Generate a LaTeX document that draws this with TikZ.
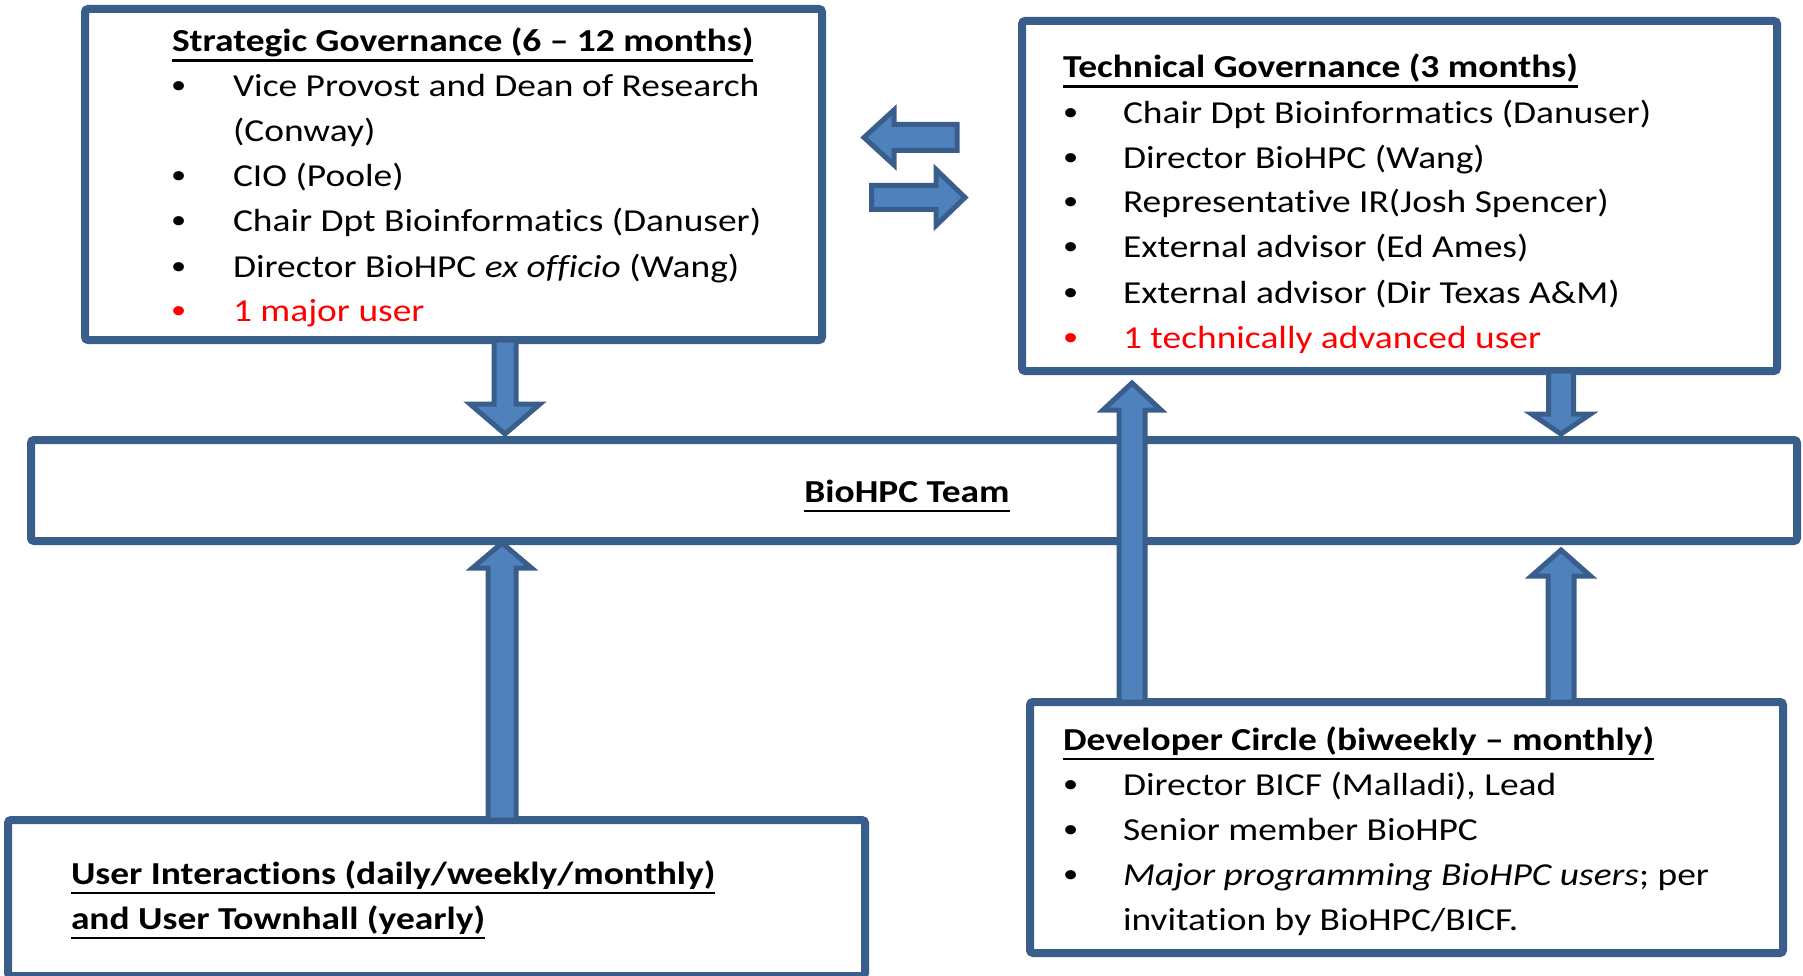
\documentclass[tikz,border=0pt]{standalone}
\usepackage{fontspec}
\setmainfont{Carlito}[FakeStretch=1.17, Ligatures={NoCommon}]
\usetikzlibrary{calc}

\definecolor{boxline}{HTML}{3A5E8C}
\definecolor{arrowfill}{HTML}{4F81BD}
\definecolor{arrowline}{HTML}{3A5E8C}
\definecolor{alertred}{HTML}{FF0000}

% underlined text with a fixed rule below the baseline
\newcommand\undl[1]{\setbox0=\hbox{#1}\rlap{\rule[-10pt]{\wd0}{2.5pt}}\box0}
% small list bullet, raised to mid x-height
\newcommand\bul{\raisebox{3pt}{\fontsize{26}{30}\selectfont •}}

% block arrow from #1 to tip #2: shaft half-width #3, head half-width #4, head length #5
\newcommand\blockarrow[5]{%
  \coordinate (bah) at ($(#2)!#5!(#1)$);
  \draw[blockarr] ($(#1)!#3!90:(#2)$) -- ($(bah)!#3!90:(#2)$) -- ($(bah)!#4!90:(#2)$)
    -- (#2) -- ($(bah)!#4!-90:(#2)$) -- ($(bah)!#3!-90:(#2)$) -- ($(#1)!#3!-90:(#2)$) -- cycle;
}

\tikzset{
  box/.style={draw=boxline, line width=8pt, fill=white, rounded corners=3pt,
    inner sep=0pt, outer sep=0pt, anchor=north west},
  blockarr/.style={draw=arrowline, fill=arrowfill, line width=5pt, line join=miter},
  txt/.style={anchor=base west, inner sep=0pt, outer sep=0pt,
    font=\fontsize{32}{40}\selectfont},
  ttl/.style={txt, font=\fontsize{32}{40}\selectfont\bfseries},
  redtxt/.style={txt, text=alertred},
}

\begin{document}
\begin{tikzpicture}[x=1pt,y=-1pt]
\useasboundingbox (0,0) rectangle (1803,976);

% boxes
\node[box, minimum width=737pt, minimum height=331pt] (strat) at (85,9) {};
\node[box, minimum width=755pt, minimum height=350pt] (tech) at (1022,21) {};
\node[box, minimum width=1766pt, minimum height=101pt] (team) at (31,440) {};
\node[box, minimum width=857pt, minimum height=156pt] (user) at (8,820) {};
\node[box, minimum width=753pt, minimum height=251pt] (dev) at (1030,702) {};

% arrow columns
\coordinate (colA) at (505,0);
\coordinate (colB) at (502,0);
\coordinate (colC) at (1132,0);
\coordinate (colD) at (1561,0);

% vertical arrows between boxes
\blockarrow{strat.south -| colA}{$(team.north -| colA)+(0,-6)$}{11pt}{35pt}{30pt}
\blockarrow{user.north -| colB}{$(team.south -| colB)+(0,2)$}{14pt}{29.5pt}{25pt}
\blockarrow{dev.north -| colC}{$(tech.south -| colC)+(0,12)$}{13pt}{29pt}{27pt}
\blockarrow{tech.south -| colD}{$(team.north -| colD)+(0,-6)$}{12.5pt}{29.5pt}{20pt}
\blockarrow{dev.north -| colD}{$(team.south -| colD)+(0,9)$}{13pt}{29.5pt}{26pt}

% exchange arrows between the two governance boxes
\coordinate (lfts) at (957,137.5);
\coordinate (lftt) at (864,137.5);
\coordinate (rgts) at (871.5,197.5);
\coordinate (rgtt) at (965,197.5);
\blockarrow{lfts}{lftt}{13pt}{27.5pt}{30pt}
\blockarrow{rgts}{rgtt}{12pt}{28pt}{29pt}

% strategic governance
\node[ttl] (sT) at (172,52) {\undl{Strategic Governance (6 – 12 months)}};
\node[txt] (sb1) at (171,97) {\bul};
\node[txt] (s1) at (233,97) {Vice Provost and Dean of Research};
\node[txt] (s1b) at (233,142) {(Conway)};
\node[txt] (sb2) at (171,187) {\bul};
\node[txt] (s2) at (233,187) {CIO (Poole)};
\node[txt] (sb3) at (171,232) {\bul};
\node[txt] (s3) at (233,232) {Chair Dpt Bioinformatics (Danuser)};
\node[txt] (sb4) at (171,277) {\bul};
\node[txt] (s4) at (233,277) {Director BioHPC \textit{ex officio} (Wang)};
\node[redtxt] (sb5) at (171,321) {\bul};
\node[redtxt] (s5) at (233,321) {1 major user};

% technical governance
\node[ttl] (tT) at (1063,78) {\undl{Technical Governance (3 months)}};
\node[txt] (tb1) at (1063,124) {\bul};
\node[txt] (t1) at (1123,124) {Chair Dpt Bioinformatics (Danuser)};
\node[txt] (tb2) at (1063,169) {\bul};
\node[txt] (t2) at (1123,169) {Director BioHPC (Wang)};
\node[txt] (tb3) at (1063,213) {\bul};
\node[txt] (t3) at (1123,213) {Representative IR(Josh Spencer)};
\node[txt] (tb4) at (1063,258) {\bul};
\node[txt] (t4) at (1123,258) {External advisor (Ed Ames)};
\node[txt] (tb5) at (1063,303) {\bul};
\node[txt] (t5) at (1123,303) {External advisor (Dir Texas A\&M)};
\node[redtxt] (tb6) at (1063,348) {\bul};
\node[redtxt] (t6) at (1123,348) {1 technically advanced user};

% team
\node[ttl, anchor=base] (teamT) at (907,502) {\undl{BioHPC Team}};

% developer circle
\node[ttl] (dT) at (1063,750) {\undl{Developer Circle (biweekly – monthly)}};
\node[txt] (db1) at (1063,795) {\bul};
\node[txt] (d1) at (1123,795) {Director BICF (Malladi), Lead};
\node[txt] (db2) at (1063,840) {\bul};
\node[txt] (d2) at (1123,840) {Senior member BioHPC};
\node[txt] (db3) at (1063,885) {\bul};
\node[txt] (d3) at (1123,885) {\textit{Major programming BioHPC users}; per};
\node[txt] (d3b) at (1123,930) {invitation by BioHPC/BICF.};

% user interactions
\node[ttl] (u1) at (71,884) {\undl{User Interactions (daily/weekly/monthly)}};
\node[ttl] (u2) at (71,929) {\undl{and User Townhall (yearly)}};
\end{tikzpicture}
\end{document}
